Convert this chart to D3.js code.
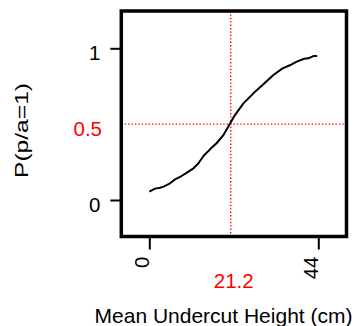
<!DOCTYPE html>
<html>
<head>
<meta charset="utf-8">
<script src="https://cdn.jsdelivr.net/npm/d3@7"></script>
<style>
  html, body { margin: 0; padding: 0; background: #fff; }
  svg { display: block; font-family: "Liberation Sans", Arial, sans-serif; }
</style>
</head>
<body>
<svg id="chart" width="357" height="326"></svg>
<script>
// ---- data ----
const heightCm = [0, 1.5, 2.8, 3.7, 5.4, 6.7, 8.4, 10.2, 11.5, 12.8, 14.1, 15.8, 17.5, 19.3, 20.8, 22.3, 24.5, 27.1, 29.7, 32.3, 34.7, 36.6, 38.4, 40.3, 41.4, 42.7, 43.7];
const probPresence = [0.055, 0.075, 0.081, 0.088, 0.11, 0.136, 0.158, 0.187, 0.209, 0.242, 0.29, 0.334, 0.374, 0.428, 0.494, 0.56, 0.637, 0.703, 0.763, 0.824, 0.868, 0.888, 0.912, 0.931, 0.934, 0.949, 0.949];
const xTicks = [0, 44];
const yTicks = [0, 1];
const threshold = 0.5;
const thresholdX = 21.2;
const xTitle = "Mean Undercut Height (cm)";
const yTitle = "P(p/a=1)";

// ---- layout ----
const svg = d3.select("#chart");
const box = { left: 121.3, right: 346.5, top: 11, bottom: 236.5 };
const x = d3.scaleLinear().domain([0, 44]).range([149.3, 318.3]);
const y = d3.scaleLinear().domain([0, 1]).range([200, 48.3]);
const fs = 20.5;

// threshold lines (red dotted)
svg.append("line")
  .attr("x1", box.left).attr("x2", box.right)
  .attr("y1", y(threshold)).attr("y2", y(threshold))
  .attr("stroke", "#ff0000").attr("stroke-width", 1.4).attr("stroke-dasharray", "1.4,2");
svg.append("line")
  .attr("x1", x(thresholdX)).attr("x2", x(thresholdX))
  .attr("y1", box.top).attr("y2", box.bottom)
  .attr("stroke", "#ff0000").attr("stroke-width", 1.4).attr("stroke-dasharray", "1.4,2");

// curve
const pts = heightCm.map((h, i) => [h, probPresence[i]]);
svg.append("path")
  .datum(pts)
  .attr("fill", "none")
  .attr("stroke", "#000")
  .attr("stroke-width", 2)
  .attr("stroke-linejoin", "round")
  .attr("d", d3.line().x(d => x(d[0])).y(d => y(d[1])));

// frame
svg.append("rect")
  .attr("x", box.left).attr("y", box.top)
  .attr("width", box.right - box.left).attr("height", box.bottom - box.top)
  .attr("fill", "none").attr("stroke", "#000").attr("stroke-width", 3.5);

// y axis
const yAxis = d3.axisLeft(y).tickValues(yTicks).tickSize(11).tickPadding(9).tickFormat(d3.format("d"));
const gy = svg.append("g").attr("transform", `translate(${box.left},0)`).call(yAxis);
gy.select(".domain").remove();
gy.selectAll(".tick line").attr("stroke", "#000").attr("stroke-width", 2);
gy.selectAll(".tick text")
  .attr("font-size", fs).attr("font-family", "Liberation Sans, Arial, sans-serif")
  .attr("fill", "#000").attr("x", -21).attr("dy", 11.5).attr("dx", 0);

// red 0.5 label
svg.append("text")
  .attr("x", 102).attr("y", y(threshold) + 11.5)
  .attr("text-anchor", "end").attr("font-size", fs).attr("fill", "#ff0000")
  .text(d3.format(".1f")(threshold));

// x axis
const xAxis = d3.axisBottom(x).tickValues(xTicks).tickSize(13).tickFormat(d3.format("d"));
const gx = svg.append("g").attr("transform", `translate(0,${box.bottom})`).call(xAxis);
gx.select(".domain").remove();
gx.selectAll(".tick line").attr("stroke", "#000").attr("stroke-width", 2);
gx.selectAll(".tick text")
  .attr("font-size", fs).attr("font-family", "Liberation Sans, Arial, sans-serif")
  .attr("fill", "#000")
  .attr("text-anchor", "end")
  .attr("x", 0).attr("y", 0).attr("dy", 0)
  .attr("transform", "translate(-1,20) rotate(-90)");

// red 21.2 label
svg.append("text")
  .attr("x", x(thresholdX) + 3).attr("y", 288)
  .attr("text-anchor", "middle").attr("font-size", fs).attr("fill", "#ff0000")
  .text(thresholdX.toFixed(1));

// titles
svg.append("text")
  .attr("x", 223.5).attr("y", 323)
  .attr("text-anchor", "middle").attr("font-size", 21).attr("fill", "#000")
  .text(xTitle);

svg.append("text")
  .attr("transform", "translate(28,130.5) rotate(-90)")
  .attr("text-anchor", "middle").attr("font-size", 19).attr("fill", "#000")
  .attr("textLength", 95).attr("lengthAdjust", "spacingAndGlyphs")
  .text(yTitle);
</script>
</body>
</html>
